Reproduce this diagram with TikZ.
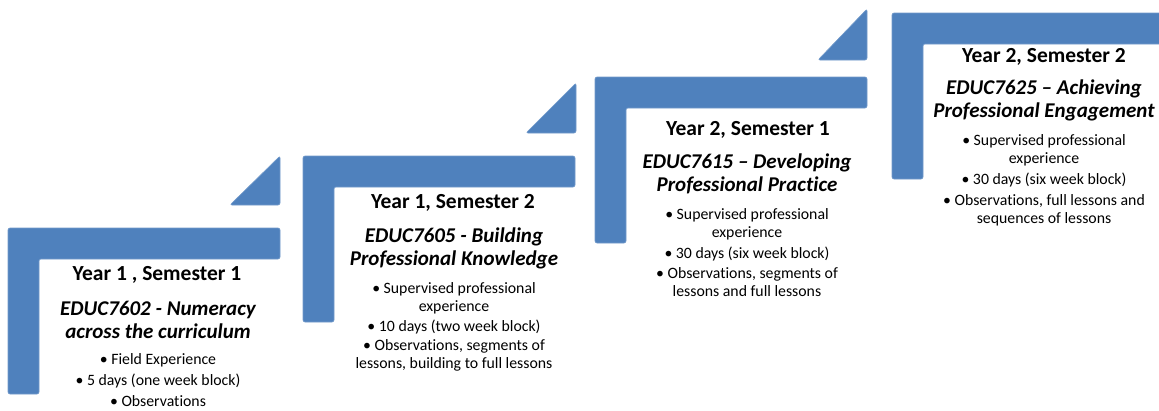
\documentclass[tikz,border=0pt]{standalone}
\usepackage{fontspec}
\setmainfont[Ligatures={NoCommon}]{Carlito}
\definecolor{stepblue}{HTML}{4F81BD}
\tikzset{
  lshape/.style={fill=stepblue, draw=stepblue!80!white, line width=0.6pt, rounded corners=2pt},
  tri/.style={fill=stepblue, draw=stepblue!80!white, line width=0.6pt, rounded corners=2pt},
  title/.style={font=\fontsize{21.5}{24}\selectfont\bfseries, inner sep=0pt},
  course/.style={font=\fontsize{21}{23}\selectfont\itshape\bfseries, align=center, inner sep=0pt},
  bul/.style={font=\fontsize{15.8}{18}\selectfont, align=center, inner sep=0pt}
}
\begin{document}
\begin{tikzpicture}[x=1pt,y=-1pt]
\useasboundingbox (0,0) rectangle (1159,410);
\clip (0,0) rectangle (1159,410);
% shapes
\foreach \x/\y/\n in {8/228/1,303/156/2,595/77/3,892/13/4}{
  \path[lshape] (\x,\y) -- ++(272,0) -- ++(0,31) -- ++(-241,0) -- ++(0,135) -- ++(-31,0) -- cycle;
}
\path[tri] (280,156) -- (280,205) -- (230,205) -- cycle;
\path[tri] (576,83) -- (576,133) -- (526,133) -- cycle;
\path[tri] (867,9) -- (867,60) -- (818,60) -- cycle;

% block 1
\node[title] (t1) at (157,275) {Year 1 , Semester 1};
\node[course] (c1) at (158,320) {EDUC7602 - Numeracy\\across the curriculum};
\node[bul] (b11) at (158,360) {• Field Experience};
\node[bul] (b12) at (158,381) {• 5 days (one week block)};
\node[bul] (b13) at (158,401) {• Observations};

% block 2
\node[title] (t2) at (453,203) {Year 1, Semester 2};
\node[course] (c2) at (454,248) {EDUC7605 - Building\\Professional Knowledge};
\node[bul] (b21) at (454,298) {• Supervised professional\\experience};
\node[bul] (b22) at (454,327) {• 10 days (two week block)};
\node[bul] (b23) at (454,355.5) {• Observations, segments of\\lessons, building to full lessons};

% block 3
\node[title] (t3) at (748,130) {Year 2, Semester 1};
\node[course] (c3) at (747,173.5) {EDUC7615 – Developing\\Professional Practice};
\node[bul] (b31) at (747,224) {• Supervised professional\\experience};
\node[bul] (b32) at (747,254) {• 30 days (six week block)};
\node[bul] (b33) at (747,282.5) {• Observations, segments of\\lessons and full lessons};

% block 4
\node[title] (t4) at (1044,57) {Year 2, Semester 2};
\node[course] (c4) at (1044,100.5) {EDUC7625 – Achieving\\Professional Engagement};
\node[bul] (b41) at (1044,150) {• Supervised professional\\experience};
\node[bul] (b42) at (1044,180) {• 30 days (six week block)};
\node[bul] (b43) at (1044,210) {• Observations, full lessons and\\sequences of lessons};
\end{tikzpicture}
\end{document}
